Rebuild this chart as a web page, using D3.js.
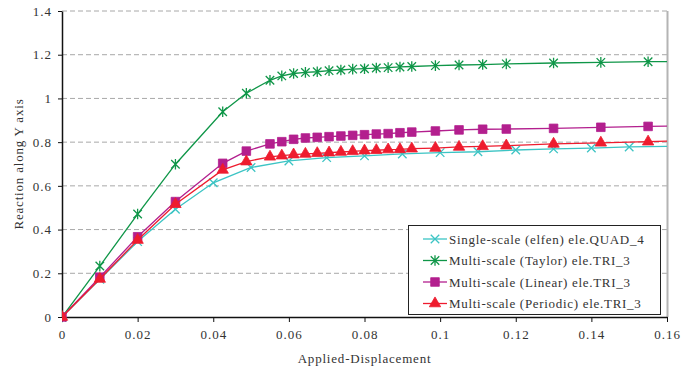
<!DOCTYPE html>
<html>
<head>
<meta charset="utf-8">
<script src="https://cdn.jsdelivr.net/npm/d3@7"></script>
<style>
  html, body { margin: 0; padding: 0; background: #fff; }
  svg { display: block; }
  text { font-family: "Liberation Serif", "DejaVu Serif", serif; fill: #333; }
</style>
</head>
<body>
<svg id="chart" width="681" height="372"></svg>
<script>
// Axis ticks
const xTicks = [0, 0.02, 0.04, 0.06, 0.08, 0.1, 0.12, 0.14, 0.16];
const xTickLabels = ["0", "0.02", "0.04", "0.06", "0.08", "0.1", "0.12", "0.14", "0.16"];
const yTicks = [0, 0.2, 0.4, 0.6, 0.8, 1, 1.2, 1.4];
const yTickLabels = ["0", "0.2", "0.4", "0.6", "0.8", "1", "1.2", "1.4"];

// Single-scale run: uniform displacement steps
const singleX = [0, 0.01, 0.02, 0.03, 0.04, 0.05, 0.06, 0.07, 0.08, 0.09, 0.1, 0.11, 0.12, 0.13, 0.14, 0.15, 0.17];
const singleY = [0, 0.172, 0.345, 0.493, 0.614, 0.684, 0.714, 0.729, 0.737, 0.746, 0.752, 0.756, 0.764, 0.769, 0.773, 0.778, 0.784];

// Multi-scale runs: adaptive displacement steps
const multiX = [0, 0.01, 0.02, 0.03, 0.0425, 0.04875, 0.055, 0.058125, 0.06125, 0.064375, 0.0675,
  0.070625, 0.07375, 0.076875, 0.08, 0.083125, 0.08625, 0.089375, 0.0925, 0.09875, 0.105,
  0.11125, 0.1175, 0.13, 0.1425, 0.155, 0.1675];
const taylorY = [0, 0.233, 0.471, 0.699, 0.939, 1.024, 1.083, 1.103, 1.114, 1.119, 1.122,
  1.127, 1.130, 1.134, 1.136, 1.139, 1.141, 1.144, 1.146, 1.150, 1.153,
  1.155, 1.158, 1.162, 1.165, 1.168, 1.170];
const linearY = [0, 0.182, 0.367, 0.528, 0.703, 0.759, 0.792, 0.802, 0.813, 0.819, 0.822,
  0.825, 0.828, 0.831, 0.834, 0.837, 0.839, 0.843, 0.846, 0.851, 0.856,
  0.859, 0.860, 0.863, 0.868, 0.872, 0.876];
const periodicY = [0, 0.174, 0.352, 0.516, 0.673, 0.711, 0.733, 0.738, 0.743, 0.746, 0.749,
  0.752, 0.755, 0.758, 0.761, 0.763, 0.766, 0.767, 0.770, 0.773, 0.778,
  0.781, 0.784, 0.792, 0.797, 0.802, 0.808];

const seriesNames = [
  "Single-scale (elfen) ele.QUAD_4",
  "Multi-scale (Taylor) ele.TRI_3",
  "Multi-scale (Linear) ele.TRI_3",
  "Multi-scale (Periodic) ele.TRI_3"
];
const seriesColors = ["#3cc4c4", "#0f9648", "#b31f8e", "#ee1c2e"];

// Custom marker: asterisk (x plus a vertical stroke)
const symbolStar = {
  draw(ctx, size) {
    const r = Math.sqrt(size) / 2;
    ctx.moveTo(-r, -r); ctx.lineTo(r, r);
    ctx.moveTo(r, -r); ctx.lineTo(-r, r);
    ctx.moveTo(0, -r * 1.25); ctx.lineTo(0, r * 1.25);
  }
};
const symbolX = {
  draw(ctx, size) {
    const r = Math.sqrt(size) / 2;
    ctx.moveTo(-r, -r); ctx.lineTo(r, r);
    ctx.moveTo(r, -r); ctx.lineTo(-r, r);
  }
};

const series = [
  { xs: singleX, ys: singleY, type: symbolX, size: 72, filled: false },
  { xs: multiX, ys: taylorY, type: symbolStar, size: 72, filled: false },
  { xs: multiX, ys: linearY, type: d3.symbolSquare, size: 74, filled: true },
  { xs: multiX, ys: periodicY, type: d3.symbolTriangle, size: 56, filled: true }
].map((s, i) => ({ ...s, name: seriesNames[i], color: seriesColors[i],
  points: s.xs.map((x, j) => ({ x, y: s.ys[j] })) }));

const svg = d3.select("#chart");
const plotLeft = 62, plotRight = 667, plotTop = 11, plotBottom = 317;
const x = d3.scaleLinear().domain([0, 0.16]).range([plotLeft, plotRight]);
const y = d3.scaleLinear().domain([0, 1.4]).range([plotBottom, plotTop]);

// Gridlines
svg.append("g")
  .selectAll("line")
  .data(yTicks.filter(v => v > 0))
  .join("line")
  .attr("x1", plotLeft).attr("x2", plotRight)
  .attr("y1", d => y(d)).attr("y2", d => y(d))
  .attr("stroke", "#a8a8a8")
  .attr("stroke-width", 1)
  .attr("stroke-dasharray", "5,3");

// Right border of plot area
svg.append("line")
  .attr("x1", plotRight + 0.5).attr("x2", plotRight + 0.5)
  .attr("y1", plotTop).attr("y2", plotBottom)
  .attr("stroke", "#b4b4b4").attr("stroke-width", 2);

// Axes
const xAxis = svg.append("g")
  .attr("transform", `translate(0,${plotBottom})`)
  .call(d3.axisBottom(x).tickValues(xTicks)
    .tickFormat((d, i) => xTickLabels[i]).tickSizeInner(5).tickSizeOuter(0).tickPadding(8));
const yAxis = svg.append("g")
  .attr("transform", `translate(${plotLeft},0)`)
  .call(d3.axisLeft(y).tickValues(yTicks)
    .tickFormat((d, i) => yTickLabels[i]).tickSizeInner(4).tickSizeOuter(0).tickPadding(6));
[xAxis, yAxis].forEach(g => {
  g.select(".domain").attr("stroke", "#111").attr("stroke-width", 1.5);
  g.selectAll(".tick line").attr("stroke", "#111");
  g.selectAll(".tick text")
    .style("font-family", '"Liberation Serif", serif')
    .style("font-size", "13px")
    .style("letter-spacing", "1px")
    .attr("fill", "#333");
});

// Axis titles
svg.append("text")
  .attr("x", (plotLeft + plotRight) / 2).attr("y", 363)
  .attr("text-anchor", "middle")
  .style("font-size", "13px").style("letter-spacing", "0.8px")
  .text("Applied-Displacement");
svg.append("text")
  .attr("transform", `translate(23,${(plotTop + plotBottom) / 2}) rotate(-90)`)
  .attr("text-anchor", "middle")
  .style("font-size", "13px").style("letter-spacing", "0.8px")
  .text("Reaction along Y axis");

// Data, clipped to the plot area
svg.append("clipPath").attr("id", "plotClip")
  .append("rect").attr("x", plotLeft).attr("y", plotTop - 10)
  .attr("width", plotRight - plotLeft).attr("height", plotBottom - plotTop + 20);

const plot = svg.append("g").attr("clip-path", "url(#plotClip)");
const line = d3.line().x(d => x(d.x)).y(d => y(d.y));

series.forEach(s => {
  const g = plot.append("g");
  g.append("path")
    .attr("d", line(s.points))
    .attr("fill", "none")
    .attr("stroke", s.color)
    .attr("stroke-width", 1.3);
  g.selectAll("path.marker")
    .data(s.points)
    .join("path")
    .attr("class", "marker")
    .attr("transform", d => `translate(${x(d.x)},${y(d.y)})`)
    .attr("d", d3.symbol().type(s.type).size(s.size))
    .attr("fill", s.filled ? s.color : "none")
    .attr("stroke", s.color)
    .attr("stroke-width", s.filled ? 0.8 : 1.3);
});

// Legend
const legend = svg.append("g");
legend.append("rect")
  .attr("x", 408.5).attr("y", 225.5)
  .attr("width", 252).attr("height", 89)
  .attr("fill", "#fff").attr("stroke", "#222").attr("stroke-width", 1);
series.forEach((s, i) => {
  const ly = 239 + i * 21.5;
  const g = legend.append("g");
  g.append("line")
    .attr("x1", 423).attr("x2", 447).attr("y1", ly).attr("y2", ly)
    .attr("stroke", s.color).attr("stroke-width", 1.3);
  g.append("path")
    .attr("transform", `translate(435,${ly})`)
    .attr("d", d3.symbol().type(s.type).size(s.size))
    .attr("fill", s.filled ? s.color : "none")
    .attr("stroke", s.color)
    .attr("stroke-width", s.filled ? 0.8 : 1.3);
  g.append("text")
    .attr("x", 449).attr("y", ly + 4.5)
    .style("font-size", "13px").style("letter-spacing", "0.7px")
    .text(s.name);
});
</script>
</body>
</html>
